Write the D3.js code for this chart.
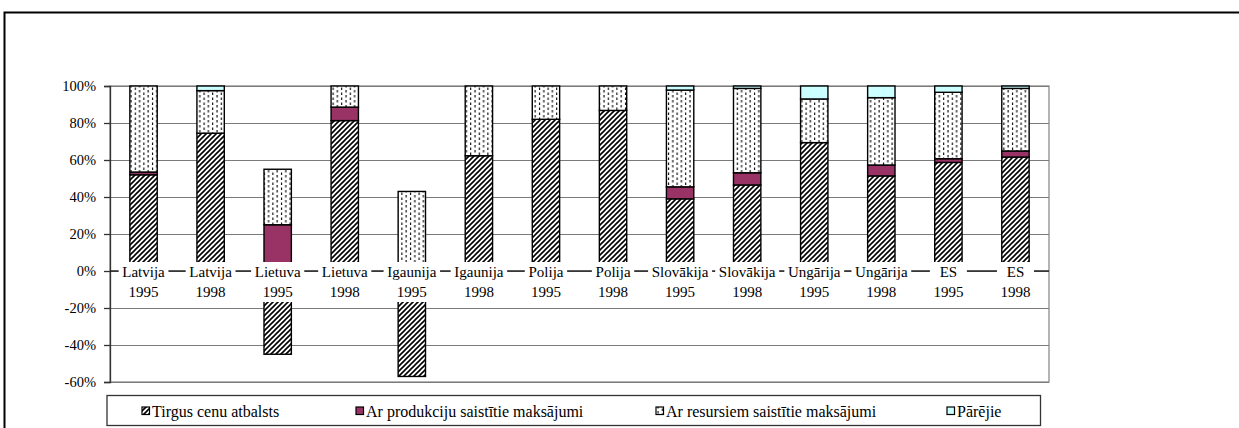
<!DOCTYPE html>
<html>
<head>
<meta charset="utf-8">
<script src="https://cdn.jsdelivr.net/npm/d3@7"></script>
<style>
    body { margin: 0; background: #fff; }
    svg text { font-family: "Liberation Serif", "Times New Roman", Times, "DejaVu Serif", serif; fill: #000; }
</style>
</head>
<body>
<svg id="chart" width="1239" height="428" font-family="Liberation Serif, Times New Roman, DejaVu Serif, serif"></svg>
<script>
// categories (country, year)
const countries = ["Latvija", "Latvija", "Lietuva", "Lietuva", "Igaunija", "Igaunija", "Polija",
    "Polija", "Slovākija", "Slovākija", "Ungārija", "Ungārija", "ES", "ES"];
const years = ["1995", "1998", "1995", "1998", "1995", "1998", "1995",
    "1998", "1995", "1998", "1995", "1998", "1995", "1998"];

// series values, %
const tirgus = [52, 74.5, -45, 81.3, -57, 62.3, 82, 86.8, 39, 46.5, 69.4, 51.4, 58.7, 61.6];
const produkcija = [1.5, 0, 25, 7.3, 0, 0, 0, 0, 6.5, 6.6, 0, 5.9, 2, 3.3];
const resursi = [46.5, 23, 30, 11.4, 43, 37.7, 18, 13.2, 52.3, 45.6, 23.6, 36.4, 35.9, 33.8];
const parejie = [0, 2.5, 0, 0, 0, 0, 0, 0, 2.2, 1.3, 7, 6.3, 3.4, 1.3];

const seriesNames = ["Tirgus cenu atbalsts", "Ar produkciju saistītie maksājumi",
    "Ar resursiem saistītie maksājumi", "Pārējie"];
const yTicks = [-60, -40, -20, 0, 20, 40, 60, 80, 100];

const attr = {
    left: 110,
    right: 1049,
    top: 86,
    bottom: 382,
    serif: "'Liberation Serif', 'Times New Roman', Times, 'DejaVu Serif', serif"
};

const svg = d3.select("#chart");

// fill patterns
const defs = svg.append("defs");

const hatch = defs.append("pattern")
    .attr("id", "hatch")
    .attr("patternUnits", "userSpaceOnUse")
    .attr("width", 5)
    .attr("height", 5);
hatch.append("rect").attr("width", 5).attr("height", 5).attr("fill", "#fff");
hatch.append("path")
    .attr("d", "M-1,1 l2,-2 M0,5 l5,-5 M4,6 l2,-2")
    .attr("stroke", "#000")
    .attr("stroke-width", 1.6);

const dots = defs.append("pattern")
    .attr("id", "dots")
    .attr("patternUnits", "userSpaceOnUse")
    .attr("width", 8.6)
    .attr("height", 5);
dots.append("rect").attr("width", 8.6).attr("height", 5).attr("fill", "#fff");
dots.append("path")
    .attr("d", "M2,0 v2.6 M6.3,2.5 v2.6")
    .attr("stroke", "#000")
    .attr("stroke-width", 1.1);

const fills = ["url(#hatch)", "#993366", "url(#dots)", "#ccffff"];

// outer frame
svg.append("path")
    .attr("d", "M4.5,440 V12.5 H1250")
    .attr("fill", "none")
    .attr("stroke", "#000")
    .attr("stroke-width", 2);

const idx = d3.range(countries.length);

const x = d3.scaleBand()
    .domain(idx)
    .range([attr.left, attr.right])
    .paddingInner(0.592)
    .paddingOuter(0.296);

const y = d3.scaleLinear()
    .domain([-60, 100])
    .range([attr.bottom, attr.top]);

// plot area border + gridlines
svg.append("rect")
    .attr("x", attr.left)
    .attr("y", attr.top)
    .attr("width", attr.right - attr.left)
    .attr("height", attr.bottom - attr.top)
    .attr("fill", "#fff")
    .attr("stroke", "#8c8c8c")
    .attr("stroke-width", 1.3);

svg.append("g")
    .attr("transform", "translate(" + attr.left + ",0)")
    .call(d3.axisLeft(y).tickValues(yTicks).tickSize(-(attr.right - attr.left)).tickFormat(""))
    .call(g => g.select(".domain").remove())
    .call(g => g.selectAll("line").attr("stroke", "#7a7a7a").attr("stroke-width", 1.2));

// stacked bars
const rows = idx.map(i => ({
    i: i,
    s0: tirgus[i],
    s1: produkcija[i],
    s2: resursi[i],
    s3: parejie[i]
}));

const stacked = d3.stack()
    .keys(["s0", "s1", "s2", "s3"])
    .offset(d3.stackOffsetDiverging)(rows);

svg.append("g")
    .selectAll("g")
    .data(stacked)
    .enter()
    .append("g")
    .attr("fill", (d, k) => fills[k])
    .selectAll("rect")
    .data(d => d.filter(p => p[1] - p[0] !== 0))
    .enter()
    .append("rect")
    .attr("x", d => x(d.data.i))
    .attr("width", x.bandwidth())
    .attr("y", d => y(Math.max(d[0], d[1])))
    .attr("height", d => Math.abs(y(d[0]) - y(d[1])))
    .attr("stroke", "#000")
    .attr("stroke-width", 1.4);

// y axis
const yAxis = svg.append("g")
    .attr("transform", "translate(" + attr.left + ",0)")
    .call(d3.axisLeft(y).tickValues(yTicks).tickSize(6).tickPadding(8).tickFormat(d => d + "%"))
    .attr("font-family", attr.serif)
    .attr("font-size", 14.5);
yAxis.select(".domain").attr("stroke", "#333").attr("stroke-width", 1.3);
yAxis.selectAll("line").attr("stroke", "#333").attr("stroke-width", 1.3);
yAxis.selectAll("text").attr("fill", "#000");

// category axis at zero
svg.append("line")
    .attr("x1", attr.left)
    .attr("x2", attr.right)
    .attr("y1", y(0))
    .attr("y2", y(0))
    .attr("stroke", "#222")
    .attr("stroke-width", 1.3);

const labels = svg.append("g")
    .attr("font-family", attr.serif)
    .selectAll("g")
    .data(idx)
    .enter()
    .append("g")
    .attr("transform", i => "translate(" + (x(i) + x.bandwidth() / 2) + "," + y(0) + ")");

labels.each(function(i) {
    let g = d3.select(this);
    let bg = g.append("rect").attr("fill", "#fff");
    let t = g.append("text")
        .attr("text-anchor", "middle")
        .attr("font-size", 15);
    t.append("tspan").attr("x", 0).attr("y", 5.5).text(countries[i]);
    t.append("tspan").attr("x", 0).attr("y", 25.5).text(years[i]);
    let w = t.node().getBBox().width + 7;
    bg.attr("x", -w / 2).attr("y", -9).attr("width", w).attr("height", 40);
});

// legend
const legend = svg.append("g").attr("font-family", attr.serif);
legend.append("rect")
    .attr("x", 107)
    .attr("y", 395.5)
    .attr("width", 933.5)
    .attr("height", 30)
    .attr("fill", "#fff")
    .attr("stroke", "#333")
    .attr("stroke-width", 1.3);

const legendX = [142, 356, 656, 947];
const items = legend.selectAll(".item")
    .data(seriesNames)
    .enter()
    .append("g")
    .attr("class", "item")
    .attr("transform", (d, k) => "translate(" + legendX[k] + ",411)");

items.append("rect")
    .attr("x", 0)
    .attr("y", -4)
    .attr("width", 7.5)
    .attr("height", 7.5)
    .attr("fill", (d, k) => fills[k])
    .attr("stroke", "#000")
    .attr("stroke-width", 1.2);

items.append("text")
    .attr("x", 10)
    .attr("y", 5.5)
    .attr("font-size", 16)
    .text(d => d);
</script>
</body>
</html>
